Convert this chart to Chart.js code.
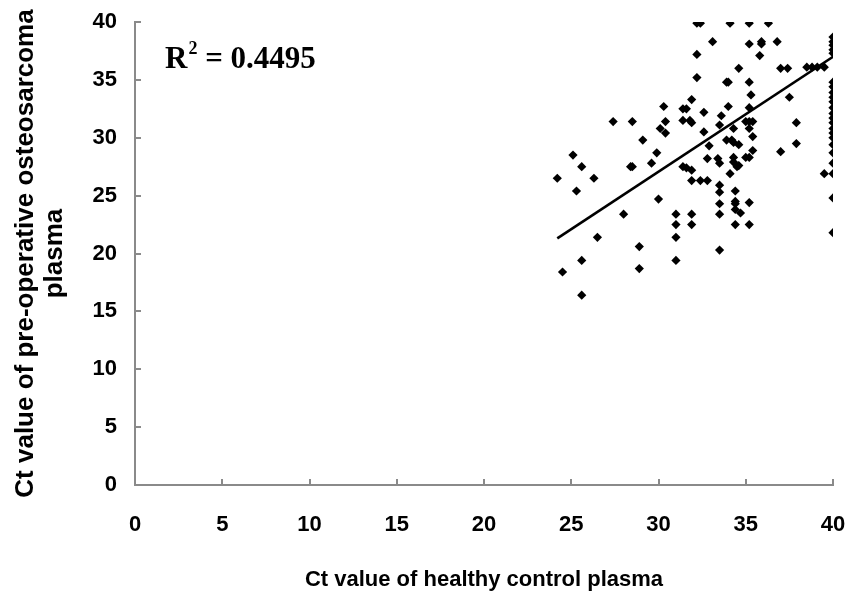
<!DOCTYPE html>
<html>
<head>
<meta charset="utf-8">
<script src="https://cdn.jsdelivr.net/npm/chart.js@4/dist/chart.umd.min.js"></script>
<style>
html,body{margin:0;padding:0;background:#fff;}
canvas{display:block;}
</style>
</head>
<body>
<canvas id="c" width="848" height="598"></canvas>
<script>
// Ct values of healthy control plasma (x)
const controlCt = [
24.2,24.5,25.1,25.3,25.6,25.6,25.6,26.3,26.5,27.4,28.0,28.4,28.5,28.5,28.9,28.9,29.1,29.6,29.9,30.0,
30.1,30.4,30.4,30.3,31.0,31.0,31.0,31.0,31.4,31.6,31.4,31.8,31.9,31.4,31.6,31.9,31.9,32.4,32.8,31.9,
31.9,32.2,32.4,32.2,32.2,31.9,32.6,32.6,32.9,32.8,33.1,33.6,33.5,33.4,33.5,33.5,33.5,33.5,33.5,33.5,
33.9,34.0,34.1,34.1,34.3,33.9,34.2,34.3,34.0,34.3,34.3,34.5,34.6,34.6,34.4,34.4,34.4,34.4,34.7,34.4,
34.6,35.0,35.2,35.4,35.2,35.4,35.4,35.0,35.2,35.2,35.2,35.9,35.9,35.8,35.2,35.3,35.2,35.2,35.2,36.3,
36.8,37.0,37.4,37.5,37.9,37.9,37.0,38.5,38.8,39.1,39.5,39.5,
40,40,40,40,40,40,40,40,40,40,40,40,40,40,40,40,40,40,40,40,40,40,40
];
// Ct values of pre-operative osteosarcoma plasma (y)
const osteoCt = [
26.5,18.4,28.5,25.4,27.5,19.4,16.4,26.5,21.4,31.4,23.4,27.5,27.5,31.4,20.6,18.7,29.8,27.8,28.7,24.7,
30.8,31.4,30.4,32.7,23.4,22.5,21.4,19.4,32.5,32.5,31.5,31.5,31.3,27.5,27.4,27.2,26.3,26.3,26.3,23.4,
22.5,39.9,39.9,37.2,35.2,33.3,32.2,30.5,29.3,28.2,38.3,31.9,31.1,28.2,27.8,25.9,25.3,24.3,23.4,20.3,
34.8,34.8,39.9,26.9,30.8,29.8,29.8,29.6,32.7,28.3,27.9,27.5,27.6,29.4,25.4,24.5,24.3,23.8,23.5,22.5,
36.0,31.4,31.4,31.4,30.8,30.1,28.9,28.3,28.3,39.9,38.1,38.3,38.1,37.1,34.8,33.7,32.6,24.4,22.5,39.9,
38.3,36.0,36.0,33.5,31.3,29.5,28.8,36.1,36.1,36.1,36.1,26.9,
38.7,38.3,38.0,37.6,37.3,34.8,34.4,33.9,33.5,33.1,32.6,32.1,31.7,31.3,30.8,30.4,30.0,29.4,28.7,27.8,26.9,24.8,21.8
];
// Linear trend line end points (x, y)
const trendX = [24.2, 40];
const trendY = [21.3, 37.0];
const tickValues = [0,5,10,15,20,25,30,35,40];
const rSquaredLabel = '0.4495';
const xTitle = 'Ct value of healthy control plasma';
const yTitle = ['Ct value of pre-operative osteosarcoma', 'plasma'];

const points = controlCt.map((x, i) => ({x: x, y: osteoCt[i]}));
const trend = trendX.map((x, i) => ({x: x, y: trendY[i]}));

const AXIS_COLOR = '#8a8a8a';
const tickFont = {family: '"Liberation Sans Narrow", "Liberation Sans", Arial, sans-serif', size: 22, weight: 'bold'};
const xTitleFont = {family: '"Liberation Sans", Arial, sans-serif', size: 22, weight: 'bold', lineHeight: 1.2};
const yTitleFont = {family: '"Liberation Sans", Arial, sans-serif', size: 26, weight: 'bold', lineHeight: 1.12};

function noPad(s) { s.paddingLeft = 0; s.paddingRight = 0; s.paddingTop = 0; s.paddingBottom = 0; }

const innerTicks = {
  id: 'innerTicks',
  afterDatasetsDraw(chart) {
    const ctx = chart.ctx;
    const xs = chart.scales.x, ys = chart.scales.y;
    const area = chart.chartArea;
    ctx.save();
    ctx.strokeStyle = AXIS_COLOR;
    ctx.lineWidth = 2;
    ctx.beginPath();
    tickValues.forEach(v => {
      const px = Math.round(xs.getPixelForValue(v));
      ctx.moveTo(px, area.bottom);
      ctx.lineTo(px, area.bottom - 6);
      const py = Math.round(ys.getPixelForValue(v));
      ctx.moveTo(area.left, py);
      ctx.lineTo(area.left + 6, py);
    });
    ctx.stroke();
    ctx.restore();
  }
};

const rLabel = {
  id: 'rLabel',
  afterDraw(chart) {
    const ctx = chart.ctx;
    ctx.save();
    ctx.fillStyle = '#000';
    ctx.textBaseline = 'alphabetic';
    ctx.textAlign = 'left';
    const serif = '"Liberation Serif", "Times New Roman", serif';
    let x = 165, base = 68;
    ctx.font = 'bold 31px ' + serif;
    ctx.fillText('R', x, base);
    x += ctx.measureText('R').width + 1;
    ctx.font = 'bold 18px ' + serif;
    ctx.fillText('2', x, base - 14);
    x += ctx.measureText('2').width;
    ctx.font = 'bold 31px ' + serif;
    ctx.fillText(' = ' + rSquaredLabel, x, base);
    ctx.restore();
  }
};

new Chart(document.getElementById('c'), {
  type: 'scatter',
  data: {
    datasets: [
      {
        data: points,
        pointStyle: 'rectRot',
        pointRadius: 4.6,
        pointHoverRadius: 4.6,
        backgroundColor: '#000',
        borderColor: '#000',
        borderWidth: 0
      },
      {
        type: 'line',
        data: trend,
        borderColor: '#000',
        borderWidth: 2.6,
        pointRadius: 0,
        fill: false,
        tension: 0
      }
    ]
  },
  options: {
    responsive: false,
    animation: false,
    devicePixelRatio: 1,
    layout: {padding: {top: 22, right: 15, left: 0, bottom: 0}},
    plugins: {legend: {display: false}, tooltip: {enabled: false}},
    scales: {
      x: {
        type: 'linear',
        min: 0, max: 40,
        afterFit(s) { s.height = 113; noPad(s); },
        afterBuildTicks(s) { s.ticks = tickValues.map(v => ({value: v})); },
        grid: {display: true, drawOnChartArea: false, drawTicks: false},
        border: {display: true, color: AXIS_COLOR, width: 2},
        ticks: {color: '#000', font: tickFont, padding: 27, maxRotation: 0},
        title: {display: true, text: xTitle, color: '#000', font: xTitleFont, padding: {top: 0, bottom: 5}}
      },
      y: {
        type: 'linear',
        min: 0, max: 40,
        afterFit(s) { s.width = 135; noPad(s); },
        afterBuildTicks(s) { s.ticks = tickValues.map(v => ({value: v})); },
        grid: {display: true, drawOnChartArea: false, drawTicks: false},
        border: {display: true, color: AXIS_COLOR, width: 2},
        ticks: {color: '#000', font: tickFont, padding: 18},
        title: {display: true, text: yTitle, color: '#000', font: yTitleFont, padding: {top: 11, bottom: 0}}
      }
    }
  },
  plugins: [innerTicks, rLabel]
});
</script>
</body>
</html>
